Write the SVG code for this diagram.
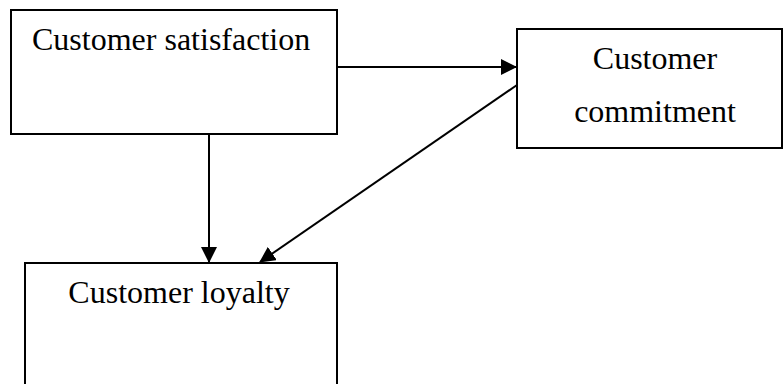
<svg xmlns="http://www.w3.org/2000/svg" width="783" height="384" viewBox="0 0 783 384">
<style>
.box{fill:#fff;stroke:#000;stroke-width:2}
.lbl{font-family:"Liberation Serif","Times New Roman",serif;font-size:32px;fill:#000}
.c{text-anchor:middle}
.edge{stroke:#000;stroke-width:2;fill:none}
</style>
<defs>
<marker id="ah" markerWidth="16" markerHeight="16" refX="15" refY="8" orient="auto" markerUnits="userSpaceOnUse">
<path d="M0,0 L16,8 L0,16 Z" fill="#000"/>
</marker>
</defs>
<rect width="783" height="384" fill="#fff"/>
<g id="satisfaction">
<rect class="box" x="11" y="10" width="326" height="124"/>
<text class="lbl" x="32" y="50">Customer satisfaction</text>
</g>
<g id="commitment">
<rect class="box" x="517" y="29" width="265" height="119"/>
<text class="lbl c" x="655" y="69">Customer</text>
<text class="lbl c" x="655" y="122">commitment</text>
</g>
<g id="loyalty">
<rect class="box" x="25" y="263" width="312" height="130"/>
<text class="lbl c" x="179" y="303">Customer loyalty</text>
</g>
<g id="connectors">
<line class="edge" x1="337" y1="67" x2="516" y2="67" marker-end="url(#ah)"/>
<line class="edge" x1="209" y1="134" x2="209" y2="262" marker-end="url(#ah)"/>
<line class="edge" x1="517" y1="85" x2="260" y2="262" marker-end="url(#ah)"/>
</g>
</svg>
